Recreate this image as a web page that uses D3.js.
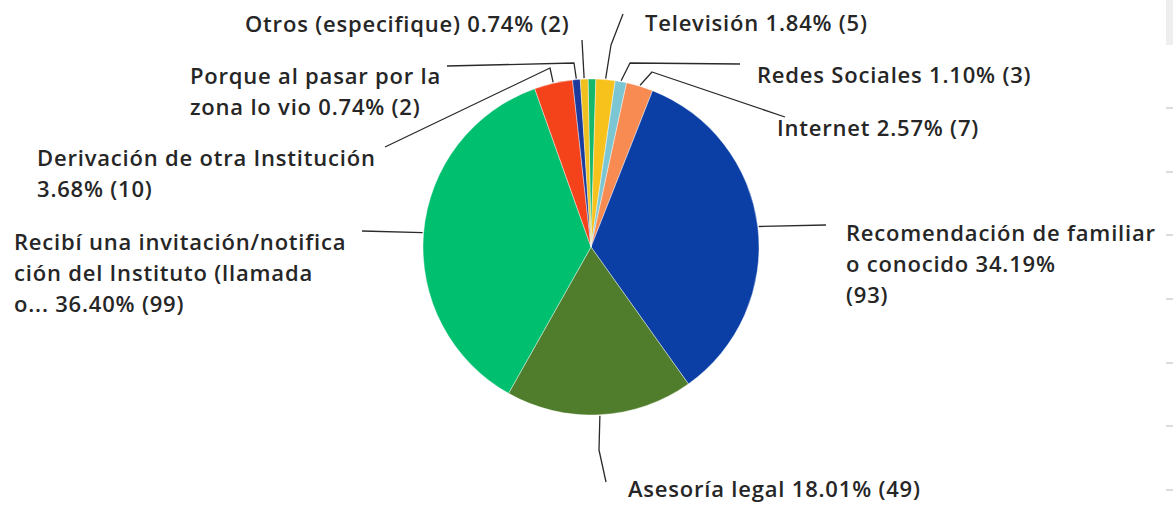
<!DOCTYPE html>
<html>
<head>
<meta charset="utf-8">
<script src="https://cdn.jsdelivr.net/npm/d3@7"></script>
<style>
  body { margin: 0; background: #fff; }
  svg { display: block; }
  .lbl { font-family: "Open Sans", "Noto Sans", sans-serif; font-weight: 600; font-size: 22px; letter-spacing: 0.8px; fill: #262626; }
</style>
</head>
<body>
<svg width="1173" height="505"></svg>
<script>
// answers, clockwise from 12 o'clock (first slice has no visible label)
let categories = ["", "Televisión", "Redes Sociales", "Internet", "Recomendación de familiar o conocido", "Asesoría legal",
  "Recibí una invitación/notificación del Instituto (llamada o...", "Derivación de otra Institución",
  "Porque al pasar por la zona lo vio", "Otros (especifique)"];
let percents = [0.74, 1.84, 1.10, 2.57, 34.19, 18.01, 36.40, 3.68, 0.74, 0.74];
let counts = [2, 5, 3, 7, 93, 49, 99, 10, 2, 2];
let colors = ["#16b86b", "#f8c21c", "#7cc6d4", "#f88b52", "#0b3fa6", "#4f7d2b", "#00bf6f", "#f4421a", "#1a3a9c", "#f0c01e"];

let width = 1173, height = 505;
let cx = 591, cy = 247, radius = 168;

// where each label sits and how its leader bends (by category index)
let layout = {
  1: {x: 645, y: 31, breaks: [], path: [[611, 45], [623, 14]]},
  2: {x: 757, y: 83, breaks: [], path: [[630, 63], [740, 64]]},
  3: {x: 777, y: 136, breaks: [], path: [[652, 72], [785, 117]]},
  4: {x: 846, y: 241, breaks: ["o conocido", "(93)"], path: [[826, 225]]},
  5: {x: 628, y: 497, breaks: [], path: [[599, 450], [606, 482]]},
  6: {x: 14, y: 250, breaks: ["ción del", "o... 36"], path: [[362, 231]]},
  7: {x: 37, y: 166, breaks: ["3.68%"], path: [[550, 68], [385, 147]]},
  8: {x: 190, y: 84, breaks: ["zona lo"], path: [[574, 63], [447, 66]]},
  9: {x: 245, y: 32, breaks: [], path: [[582, 40]]}
};
let lineHeight = 31;

let svg = d3.select("svg");

// faint page remnants on the right edge
svg.append("rect").attr("x", 1166).attr("y", 0).attr("width", 7).attr("height", 45).attr("fill", "#eeeeee");
[108, 172, 235, 299, 363, 426, 490].forEach(function(ty){
  svg.append("line").attr("x1", 1166).attr("x2", 1173).attr("y1", ty).attr("y2", ty)
    .attr("stroke", "#dcdcdc").attr("stroke-width", 2);
});

let chart = svg.append("g").attr("transform", "translate(" + cx + "," + cy + ")");

let offset = -1 * Math.PI / 180;
let pie = d3.pie().sort(null).value((d) => percents[d])
  .startAngle(offset).endAngle(offset + 2 * Math.PI);
let arc = d3.arc().innerRadius(0).outerRadius(radius);

let slices = pie(d3.range(categories.length));

chart.selectAll("path.slice").data(slices).enter().append("path")
  .attr("class", "slice")
  .attr("d", arc)
  .attr("fill", (d) => colors[d.data])
  .attr("stroke", "#fff").attr("stroke-width", 0.4);

function splitLabel(s, breaks){
  let lines = [s];
  breaks.forEach(function(b){
    let last = lines.pop();
    let i = last.indexOf(b);
    lines.push(last.slice(0, i).trim(), last.slice(i).trim());
  });
  return lines;
}

slices.forEach(function(d){
  let k = d.data;
  let L = layout[k];
  if (!L) return;
  let mid = (d.startAngle + d.endAngle) / 2;
  let start = [cx + (radius + 1) * Math.sin(mid), cy - (radius + 1) * Math.cos(mid)];
  let pts = [start].concat(L.path);
  svg.append("path")
    .attr("d", d3.line().curve(d3.curveLinear)(pts))
    .attr("fill", "none").attr("stroke", "#2a2a2a").attr("stroke-width", 1.3)
    .attr("stroke-linejoin", "round");

  let txt = categories[k] + " " + percents[k].toFixed(2) + "% (" + counts[k] + ")";
  let lines = splitLabel(txt, L.breaks);
  let t = svg.append("text").attr("class", "lbl").attr("x", L.x).attr("y", L.y);
  lines.forEach(function(line, i){
    t.append("tspan").attr("x", L.x).attr("y", L.y + i * lineHeight).text(line);
  });
});
</script>
</body>
</html>
